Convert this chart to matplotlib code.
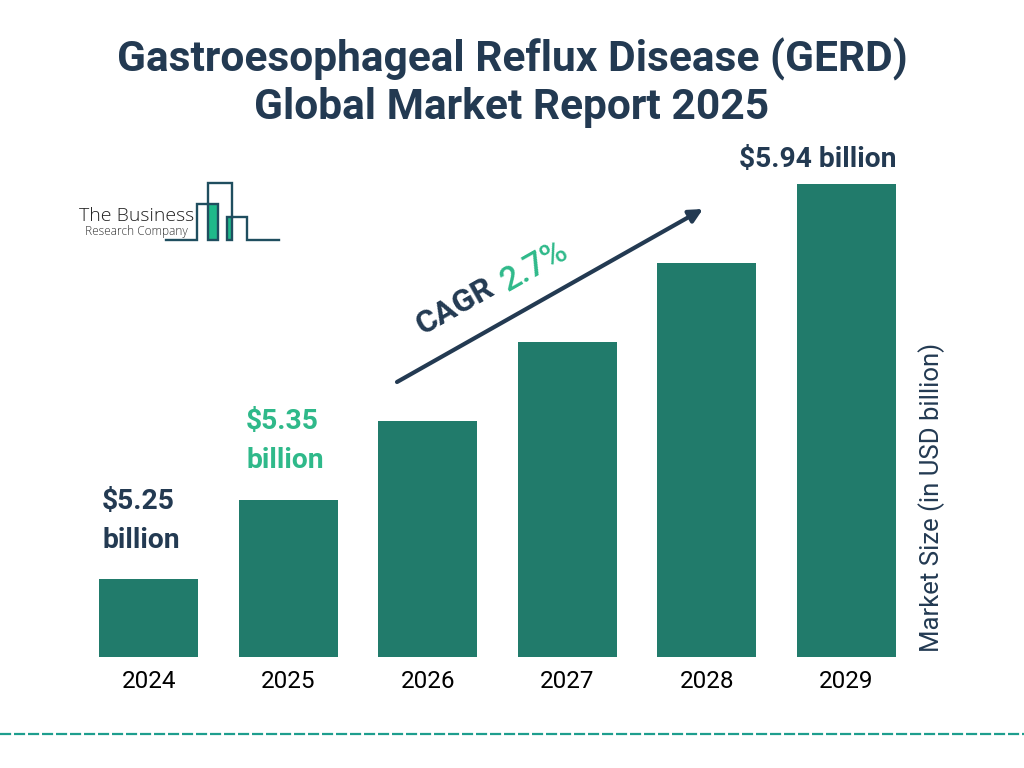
#!/usr/bin/env python3
import numpy as np
import matplotlib
matplotlib.use('Agg')
import matplotlib.pyplot as plt

years = ['2024', '2025', '2026', '2027', '2028', '2029']
bar_heights = [78, 157, 236, 315, 394, 473]  # Drawn heights, the picture does not scale them to the values
logo_x = [166, 197, 197, 218, 218, 208, 208, 232, 232, 227, 227, 247, 247, 279]
logo_y = [240, 240, 204, 204, 240, 240, 183, 183, 240, 240, 217, 217, 240, 240]

navy = '#233A52'
teal = '#217B6B'
green = '#2FB98A'


def draw_bars():
    # Axes edges are chosen so that one category step is 139.5 px
    plt.axes([79 / 1024, (768 - 657) / 768, 837 / 1024, 473 / 768])
    plt.bar(np.arange(len(years)), bar_heights, width=0.708, color=teal)
    plt.xlim(-0.5, 5.5)
    plt.ylim(0, 473)
    plt.xticks(np.arange(len(years)), years, fontsize=17.5, color='black')
    plt.yticks([])
    plt.tick_params(axis='x', length=0, pad=9)
    for side in ['top', 'right', 'left', 'bottom']:
        plt.gca().spines[side].set_visible(False)


def draw_overlay():
    # Second axes in pixel units, for everything that is not a bar
    plt.axes([0, 0, 1, 1], facecolor='none')
    plt.xlim(0, 1024)
    plt.ylim(768, 0)
    plt.axis('off')

    # Title
    plt.text(512, 59, 'Gastroesophageal Reflux Disease (GERD)', fontsize=30.6, fontweight='bold',
             color=navy, ha='center', va='center')
    plt.text(512, 107, 'Global Market Report 2025', fontsize=30.6, fontweight='bold',
             color=navy, ha='center', va='center')

    # Value labels
    plt.text(102, 502, '$5.25', fontsize=20.3, fontweight='bold', color=navy, va='center')
    plt.text(102, 541, 'billion', fontsize=20.3, fontweight='bold', color=navy, va='center')
    plt.text(246, 422, '$5.35', fontsize=20.3, fontweight='bold', color=green, va='center')
    plt.text(246, 461, 'billion', fontsize=20.3, fontweight='bold', color=green, va='center')
    plt.text(818, 159, '$5.94 billion', fontsize=20.3, fontweight='bold', color=navy,
             ha='center', va='center')

    # Arrow and CAGR
    plt.annotate('', xy=(703, 209), xytext=(397, 382),
                 arrowprops=dict(arrowstyle='-|>', color=navy, lw=3, mutation_scale=20,
                                 shrinkA=0, shrinkB=0))
    plt.text(455, 306, 'CAGR', fontsize=23, fontweight='bold', color=navy, rotation=29.5,
             ha='center', va='center', rotation_mode='anchor')
    plt.text(535, 266, '2.7%', fontsize=24, fontweight='medium', color=green, rotation=29.5,
             ha='center', va='center', rotation_mode='anchor')

    # Side label
    plt.text(932, 497, 'Market Size (in USD billion)', fontsize=18.5, color=navy, rotation=90,
             ha='center', va='center')

    # Logo
    plt.fill_between([208, 218], 204, 240, color='#1FB98A', lw=0)
    plt.fill_between([227, 232], 217, 240, color='#1FB98A', lw=0)
    plt.plot(logo_x, logo_y, color='#1F4E5F', lw=1.7, solid_joinstyle='miter')
    plt.text(79, 216, 'The Business', fontsize=14, family='Open Sans', fontweight='light',
             color='#222222', va='center')
    plt.text(85, 232, 'Research Company', fontsize=8.6, family='Open Sans', fontweight='light',
             color='#333333', va='center')

    # Dashed rule at the bottom
    plt.plot([0, 1024], [734, 734], color='#1E9E8E', lw=1.6, linestyle=(0, (5, 1.3)))


def main():
    plt.rcParams['font.family'] = ['Roboto', 'DejaVu Sans']
    plt.figure(figsize=(10.24, 7.68), dpi=100, facecolor='white')
    draw_bars()
    draw_overlay()
    plt.savefig('out.png', dpi=100)


if __name__ == '__main__':
    main()
